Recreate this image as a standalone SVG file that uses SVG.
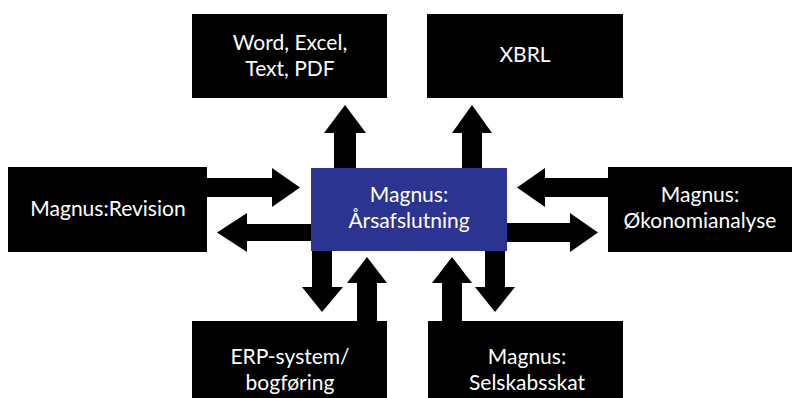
<svg xmlns="http://www.w3.org/2000/svg" width="793" height="398" viewBox="0 0 793 398">
<style>
.box{fill:#000}
.center{fill:#2c3491}
.t{font-family:Lato,"Open Sans",sans-serif;font-size:21px;fill:#fff;text-anchor:middle}
.arr{fill:#000}
</style>
<rect width="793" height="398" fill="#fff"/>
<g id="node-word">
<rect class="box" x="192" y="14" width="195" height="84"/>
<text class="t" x="290" y="50">Word, Excel,</text>
<text class="t" x="290" y="76">Text, PDF</text>
</g>
<g id="node-xbrl">
<rect class="box" x="427" y="14" width="196" height="84"/>
<text class="t" x="525" y="62">XBRL</text>
</g>
<g id="node-revision">
<rect class="box" x="8" y="167" width="199" height="85"/>
<text class="t" x="108" y="216">Magnus:Revision</text>
</g>
<g id="node-center">
<rect class="center" x="311" y="168" width="196" height="83"/>
<text class="t" x="409" y="202">Magnus:</text>
<text class="t" x="409" y="228">Årsafslutning</text>
</g>
<g id="node-okonomi">
<rect class="box" x="608" y="167" width="184" height="85"/>
<text class="t" x="700" y="202">Magnus:</text>
<text class="t" x="700" y="228">Økonomianalyse</text>
</g>
<g id="node-erp">
<rect class="box" x="192" y="321" width="195" height="77"/>
<text class="t" x="290" y="364">ERP-system/</text>
<text class="t" x="290" y="390">bogføring</text>
</g>
<g id="node-selskab">
<rect class="box" x="428" y="321" width="195" height="77"/>
<text class="t" x="527" y="364">Magnus:</text>
<text class="t" x="527" y="390">Selskabsskat</text>
</g>
<g id="connectors">
<polygon class="arr" points="334,168 334,133 324,133 345,105 366,133 356,133 356,168"/>
<polygon class="arr" points="462,168 462,133 452,133 472,105 492,133 482,133 482,168"/>
<polygon class="arr" points="207,178 272,178 272,168 300,187.5 272,207 272,197 207,197"/>
<polygon class="arr" points="311,224 247,224 247,213 217,232.5 247,252 247,241 311,241"/>
<polygon class="arr" points="608,178 545,178 545,168 517,187.5 545,207 545,197 608,197"/>
<polygon class="arr" points="507,223 570,223 570,213 598,232.5 570,252 570,242 507,242"/>
<polygon class="arr" points="312,251 332,251 332,287 343,287 322,312 302,287 312,287"/>
<polygon class="arr" points="357,321 357,283 347,283 367,257 387,283 377,283 377,321"/>
<polygon class="arr" points="442,321 442,283 432,283 452,257 472,283 462,283 462,321"/>
<polygon class="arr" points="485,251 505,251 505,287 515,287 495,312 475,287 485,287"/>
</g>
</svg>
